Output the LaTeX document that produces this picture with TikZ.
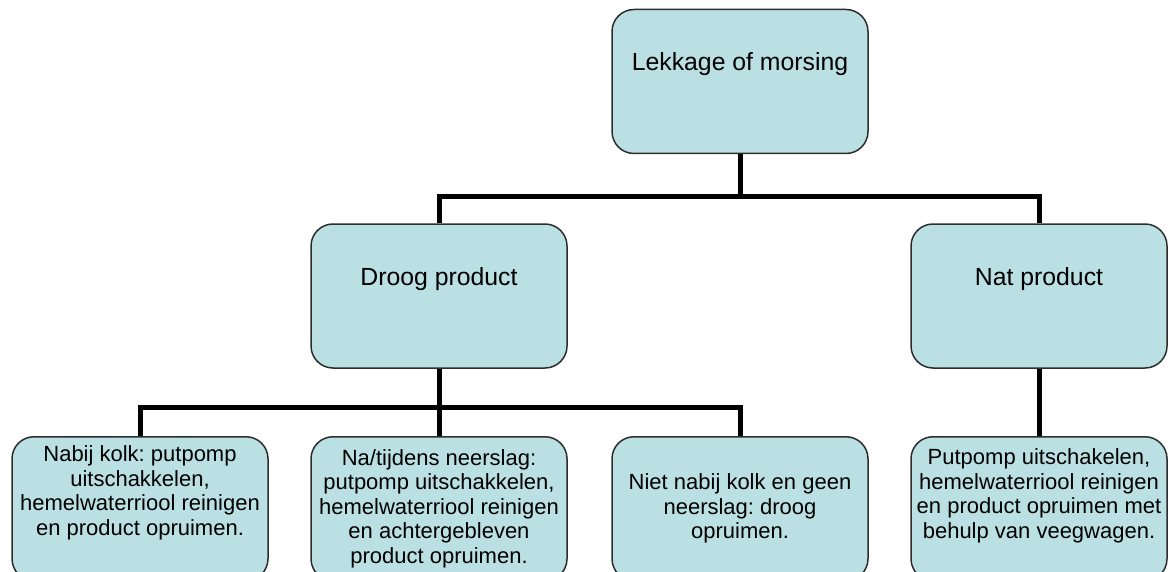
\documentclass[tikz,border=0pt]{standalone}
\usepackage{fontspec}
\setmainfont{Liberation Sans}
\usetikzlibrary{positioning}
\definecolor{boxfill}{RGB}{187,224,228}
\definecolor{boxline}{RGB}{45,45,45}
\frenchspacing

\begin{document}
\begin{tikzpicture}[x=1pt,y=-1pt,
 box/.style={draw=boxline,line width=1.5pt,fill=boxfill,rounded corners=22pt,minimum width=256pt,minimum height=144pt,inner sep=0pt},
 hd/.style={box,font=\fontsize{24.8}{29}\selectfont,text height=18pt,text depth=39pt},
 lf/.style={box,anchor=north,align=center,font=\fontsize{22}{24.5}\selectfont},
 conn/.style={line width=5pt}]
\useasboundingbox (0,0) rectangle (1174,572);
\clip (0,0) rectangle (1174,572);
\node[hd] (lek) at (740,81.5) {Lekkage of morsing};
\node[hd] (droog) at (439,296) {Droog product};
\node[hd] (nat) at (1039,296) {Nat product};
\node[lf] (kolk) at (140,436) {Nabij kolk: putpomp\\uitschakkelen,\\hemelwaterriool reinigen\\en product opruimen.\\[12pt]\mbox{}};
\node[lf] (neer) at (439,436) {Na/tijdens neerslag:\\putpomp uitschakkelen,\\hemelwaterriool reinigen\\en achtergebleven\\product opruimen.};
\node[lf] (niet) at (740,436) {Niet nabij kolk en geen\\neerslag: droog\\opruimen.};
\node[lf] (veeg) at (1039,436) {Putpomp uitschakelen,\\hemelwaterriool reinigen\\en product opruimen met\\behulp van veegwagen.\\[6pt]\mbox{}};
\draw[conn] (lek.south) -- ++(0,42) -| (droog.north);
\draw[conn] (lek.south) -- ++(0,42) -| (nat.north);
\draw[conn] (droog.south) -- ++(0,39) -| (kolk.north);
\draw[conn] (droog.south) -- (neer.north);
\draw[conn] (droog.south) -- ++(0,39) -| (niet.north);
\draw[conn] (nat.south) -- (veeg.north);
\end{tikzpicture}
\end{document}
